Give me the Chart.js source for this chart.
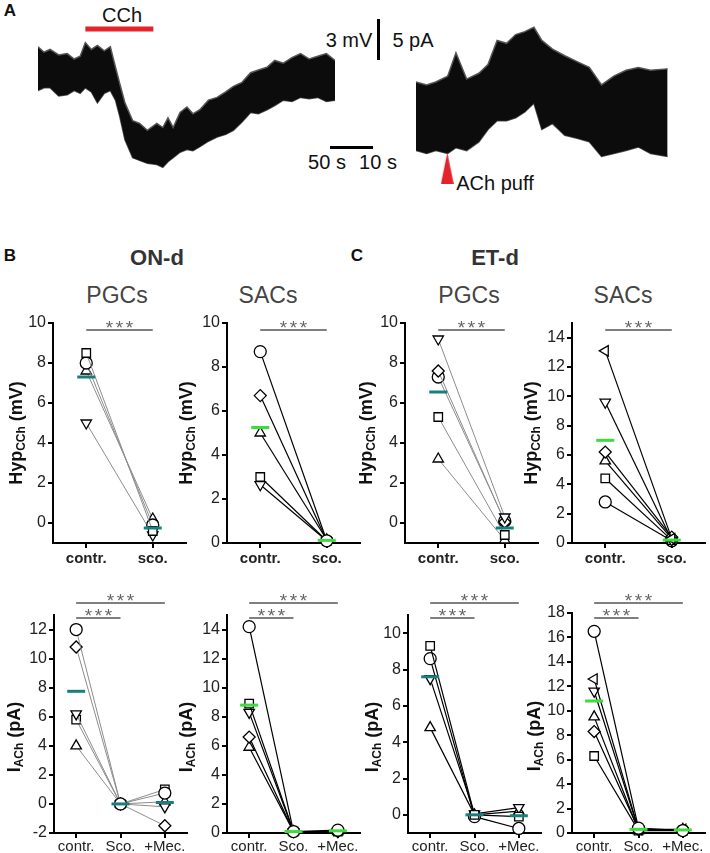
<!DOCTYPE html>
<html>
<head>
<meta charset="utf-8">
<script src="https://cdn.jsdelivr.net/npm/chart.js@4.4.1/dist/chart.umd.min.js"></script>
<style>
  body { margin: 0; background: #fff; font-family: "Liberation Sans", Arial, sans-serif; }
  #fig { position: relative; width: 710px; height: 853px; overflow: hidden; }
  canvas { position: absolute; }
  .t { position: absolute; white-space: nowrap; color: #111; transform: translate(-50%, -50%); }
  .bar { position: absolute; background: #000; }
</style>
</head>
<body>
<div id="fig">
  <div class="t" style="left:10px;top:11px;font-weight:bold;font-size:17px">A</div>
  <div class="t" style="left:122px;top:15px;font-size:20px">CCh</div>
  <div class="t" style="left:349px;top:40px;font-size:20px">3 mV</div>
  <div class="bar" style="left:377px;top:19px;width:3px;height:41px"></div>
  <div class="t" style="left:413px;top:40px;font-size:20px">5 pA</div>
  <div class="bar" style="left:330px;top:146px;width:43px;height:3px"></div>
  <div class="t" style="left:327px;top:162px;font-size:20px">50 s</div>
  <div class="t" style="left:378px;top:162px;font-size:20px">10 s</div>
  <div class="t" style="left:495px;top:183px;font-size:20px">ACh puff</div>

  <div class="t" style="left:10px;top:256px;font-weight:bold;font-size:17px">B</div>
  <div class="t" style="left:357px;top:256px;font-weight:bold;font-size:17px">C</div>
  <div class="t" style="left:157px;top:258px;font-weight:bold;font-size:22px;color:#333">ON-d</div>
  <div class="t" style="left:495px;top:258px;font-weight:bold;font-size:22px;color:#333">ET-d</div>
  <div class="t" style="left:117px;top:295px;font-size:23px;color:#444">PGCs</div>
  <div class="t" style="left:268px;top:295px;font-size:23px;color:#444">SACs</div>
  <div class="t" style="left:469px;top:295px;font-size:23px;color:#444">PGCs</div>
  <div class="t" style="left:623px;top:295px;font-size:23px;color:#444">SACs</div>
</div>
<script>
// ---- A: example traces (envelope of the noisy recording) ----
// CCh: time (s) vs membrane potential (mV)
const cchTime   = [0, 7, 14, 24, 34, 42, 49, 55, 62, 69, 77, 84, 90, 95, 101, 110, 118, 127, 138, 145, 151, 157, 165, 173, 180, 188, 198, 208, 218, 227, 237, 247, 256, 266, 275, 285, 295, 305, 315, 325, 335, 345];
const cchTop    = [1.7, 1.3, 1.5, 1.1, 1.2, 0.8, 1.0, 2.0, 1.5, 1.8, 1.4, 1.7, 0.2, -1.0, -2.4, -3.7, -3.9, -4.4, -3.9, -4.2, -3.5, -4.2, -3.1, -2.7, -3.2, -2.9, -2.2, -2.0, -1.6, -1.2, -0.9, -0.2, 0.0, 0.2, 0.7, 0.5, 0.9, 1.2, 0.8, 1.0, 1.2, 0.7];
const cchBottom = [-1.5, -1.3, -1.3, -1.9, -1.8, -1.5, -1.7, -1.3, -1.6, -2.4, -1.7, -1.5, -2.2, -3.4, -5.1, -6.4, -6.6, -6.8, -6.9, -7.1, -6.7, -6.4, -6.0, -5.8, -5.9, -5.6, -5.2, -4.9, -4.7, -4.4, -3.8, -3.1, -3.2, -2.9, -2.6, -2.2, -2.3, -2.0, -2.1, -2.0, -2.3, -2.2];
const cchApplied = [55, 134];
// ACh puff: time (s) vs current (pA)
const achTime   = [0, 2.7, 5.0, 8.0, 10.1, 12.8, 15.9, 18.2, 20.5, 22.9, 25.2, 27.5, 29.8, 31.8, 34.5, 37.6, 40.7, 43.8, 46.9, 50.0, 53.1, 56.2, 59.3, 63.6];
const achTop    = [4.9, 4.5, 4.9, 5.7, 8.9, 5.3, 6.1, 7.3, 10.6, 10.2, 11.4, 11.8, 12.4, 10.6, 9.4, 8.5, 7.7, 6.9, 4.5, 5.7, 6.5, 6.9, 6.5, 6.7];
const achBottom = [-4.5, -4.9, -4.5, -4.9, -4.1, -4.5, -3.3, -1.6, -0.4, -0.4, 0, 0.8, 2.0, -1.6, -0.8, -2.4, -2.8, -3.3, -5.3, -4.9, -4.5, -4.0, -4.9, -5.3];
const achPuffTime = 7.9;

// ---- B/C: paired data, one row per cell ----
const hypCats  = ['contr.', 'sco.'];
const iachCats = ['contr.', 'Sco.', '+Mec.'];

const onPgcHyp       = [[8.5, -0.4], [8.0, -0.1], [7.6, 0.2], [5.0, -0.6]];
const onPgcHypShapes = ['square', 'circle', 'up', 'down'];
const onPgcHypMean   = [7.3, -0.25];
const onPgcHypTicks  = [0, 2, 4, 6, 8, 10];

const onSacHyp       = [[8.7, 0.1], [6.7, 0.1], [5.0, 0.15], [3.0, 0.1], [2.65, 0.1]];
const onSacHypShapes = ['circle', 'diamond', 'up', 'square', 'down'];
const onSacHypMean   = [5.25, 0.12];
const onSacHypTicks  = [0, 2, 4, 6, 8, 10];

const etPgcHyp       = [[9.2, 0.3], [7.6, 0.05], [7.3, 0.1], [5.3, -0.6], [3.2, -0.85]];
const etPgcHypShapes = ['down', 'diamond', 'circle', 'square', 'up'];
const etPgcHypMean   = [6.55, -0.25];
const etPgcHypTicks  = [0, 2, 4, 6, 8, 10];

const etSacHyp       = [[13.1, 0.3], [9.6, 0.2], [6.2, 0.4], [5.6, 0.3], [4.4, 0.2], [2.8, 0.15]];
const etSacHypShapes = ['left', 'down', 'diamond', 'up', 'square', 'circle'];
const etSacHypMean   = [7.0, 0.2];
const etSacHypTicks  = [0, 2, 4, 6, 8, 10, 12, 14];

const onPgcIach       = [[12.0, 0, 0.75], [10.8, 0, -1.5], [6.2, 0, -0.2], [5.8, 0, 1.0], [4.0, 0, 0.15]];
const onPgcIachShapes = ['circle', 'diamond', 'down', 'square', 'up'];
const onPgcIachMean   = [7.75, 0, 0.1];
const onPgcIachTicks  = [-2, 0, 2, 4, 6, 8, 10, 12];

const onSacIach       = [[14.2, 0.1, 0.2], [8.9, 0.1, 0.1], [8.3, 0.1, 0.1], [6.6, 0.1, 0.1], [5.9, 0.1, 0.1]];
const onSacIachShapes = ['circle', 'square', 'down', 'diamond', 'up'];
const onSacIachMean   = [8.8, 0.1, 0.15];
const onSacIachTicks  = [0, 2, 4, 6, 8, 10, 12, 14];

const etPgcIach       = [[9.3, 0, -0.1], [8.6, -0.1, -0.75], [7.5, 0.05, 0.4], [4.8, 0, 0.2]];
const etPgcIachShapes = ['square', 'circle', 'down', 'up'];
const etPgcIachMean   = [7.6, 0, -0.05];
const etPgcIachTicks  = [0, 2, 4, 6, 8, 10];

const etSacIach       = [[16.5, 0.4, 0.2], [12.6, 0.3, 0.3], [11.6, 0.3, 0.2], [9.5, 0.2, 0.3], [8.3, 0.3, 0.2], [6.3, 0.2, 0.2]];
const etSacIachShapes = ['circle', 'left', 'down', 'up', 'diamond', 'square'];
const etSacIachMean   = [10.8, 0.3, 0.25];
const etSacIachTicks  = [0, 2, 4, 6, 8, 10, 12, 14, 16, 18];

// ------------------------------------------------------------
const FONT = '"Liberation Sans", Arial, sans-serif';
Chart.defaults.font.family = FONT;
Chart.defaults.animation = false;

const fig = document.getElementById('fig');
function makeCanvas(left, top, w, h) {
  const c = document.createElement('canvas');
  c.width = w; c.height = h;
  c.style.left = left + 'px'; c.style.top = top + 'px';
  c.style.width = w + 'px'; c.style.height = h + 'px';
  fig.appendChild(c);
  return c.getContext('2d');
}
const pts = (xs, ys) => xs.map((x, i) => ({ x: x, y: ys[i] }));

const traceOpts = (xmax, ymin, ymax) => ({
  responsive: false,
  layout: { padding: 0 },
  plugins: { legend: { display: false }, tooltip: { enabled: false } },
  scales: {
    x: { type: 'linear', min: 0, max: xmax, display: false },
    y: { min: ymin, max: ymax, display: false }
  }
});

// left trace: CCh
new Chart(makeCanvas(38, 0, 297, 200), {
  type: 'line',
  data: {
    datasets: [
      { data: cchApplied.map(t => ({ x: t, y: 3.0 })), borderColor: '#e3242b', borderWidth: 5, pointRadius: 0, clip: false },
      { data: pts(cchTime, cchTop), borderColor: '#555', borderWidth: 1.5, pointRadius: 0, fill: '+1', backgroundColor: '#0c0c0c', clip: false },
      { data: pts(cchTime, cchBottom), borderColor: '#555', borderWidth: 1.5, pointRadius: 0, clip: false }
    ]
  },
  options: traceOpts(345, -9.49, 5.11)
});

// right trace: ACh puff
const puffImg = document.createElement('canvas');
puffImg.width = 13; puffImg.height = 32;
(function () {
  const g = puffImg.getContext('2d');
  g.fillStyle = '#e3242b';
  g.beginPath(); g.moveTo(6.5, 0); g.lineTo(13, 32); g.lineTo(0, 32); g.closePath(); g.fill();
})();

new Chart(makeCanvas(405, 0, 274, 200), {
  type: 'line',
  data: {
    datasets: [
      { data: [{ x: achPuffTime, y: -6.95 }], showLine: false, pointStyle: puffImg, pointRadius: 10, clip: false },
      { data: pts(achTime, achTop), borderColor: '#555', borderWidth: 1.5, pointRadius: 0, fill: '+1', backgroundColor: '#0c0c0c', clip: false },
      { data: pts(achTime, achBottom), borderColor: '#555', borderWidth: 1.5, pointRadius: 0, clip: false }
    ]
  },
  options: traceOpts(63.7, -9.76, 14.63)
});

// ---- paired plots ----
const TEAL = '#17807f', GREEN = '#3ddc3d';
const shapeMap = {
  circle: ['circle', 0], square: ['rect', 0], diamond: ['rectRot', 0],
  up: ['triangle', 0], down: ['triangle', 180], left: ['triangle', 270]
};

const extras = {
  id: 'extras',
  afterDraw(chart, args, o) {
    const ctx = chart.ctx, a = chart.chartArea, xs = chart.scales.x;
    // y title with subscript
    ctx.save();
    ctx.translate(a.left - o.tOff, (a.top + a.bottom) / 2 + (o.tDy || 0));
    ctx.rotate(-Math.PI / 2);
    const big = 'bold 18px ' + FONT, small = 'bold 12px ' + FONT;
    ctx.font = big;
    const w1 = ctx.measureText(o.title[0]).width, w3 = ctx.measureText(o.title[2]).width;
    ctx.font = small;
    const w2 = ctx.measureText(o.title[1]).width;
    let x = -(w1 + w2 + w3) / 2;
    ctx.fillStyle = '#111'; ctx.textBaseline = 'middle'; ctx.textAlign = 'left';
    ctx.font = big; ctx.fillText(o.title[0], x, 0); x += w1;
    ctx.font = small; ctx.fillText(o.title[1], x, 5); x += w2;
    ctx.font = big; ctx.fillText(o.title[2], x, 0);
    ctx.restore();
    // significance bars with three asterisks
    o.sig.forEach(b => {
      const y = a.top + b.dy, x0 = xs.getPixelForValue(b.from), x1 = xs.getPixelForValue(b.to);
      const xm = (x0 + x1) / 2;
      ctx.save();
      ctx.strokeStyle = '#555'; ctx.lineWidth = 1.5;
      ctx.beginPath(); ctx.moveTo(x0, y); ctx.lineTo(x1, y); ctx.stroke();
      ctx.fillStyle = '#666'; ctx.font = '19px ' + FONT;
      ctx.textAlign = 'center'; ctx.textBaseline = 'alphabetic';
      [-10, 0, 10].forEach(dx => ctx.fillText('*', xm + dx, y + 4));
      ctx.restore();
    });
  }
};

function pairedPlot(p) {
  const yW = 52, xH = p.bold ? 25 : 20, padTop = 30, padRight = 10;
  const ctx = makeCanvas(p.axisX - yW, p.top - padTop, yW + 135 + padRight, padTop + (p.bottom - p.top) + xH);
  const sets = [{
    data: p.mean.map((v, i) => ({ x: i, y: v })), showLine: false,
    pointStyle: 'line', pointRadius: 9, borderColor: p.meanColor, borderWidth: 3, clip: false
  }];
  p.data.forEach((row, k) => {
    const s = shapeMap[p.shapes[k]];
    sets.push({
      data: row.map((v, i) => ({ x: i, y: v })),
      borderColor: p.line, borderWidth: p.lw,
      pointStyle: s[0], pointRotation: s[1], pointRadius: 6,
      pointBackgroundColor: '#fff', pointBorderColor: '#000', pointBorderWidth: 1.3,
      clip: false
    });
  });
  new Chart(ctx, {
    type: 'line',
    data: { datasets: sets },
    options: {
      responsive: false,
      layout: { padding: { top: padTop, right: padRight, left: 0, bottom: 0 } },
      plugins: {
        legend: { display: false }, tooltip: { enabled: false },
        extras: { title: p.title, tOff: p.tOff, tDy: p.tDy, sig: p.sig }
      },
      scales: {
        x: {
          type: 'linear', min: -0.5, max: p.cats.length - 0.5,
          afterBuildTicks: s => { s.ticks = p.cats.map((c, i) => ({ value: i })); },
          afterFit: s => { s.height = xH; },
          ticks: {
            callback: v => p.cats[v], color: '#222', padding: p.bold ? 2 : 0,
            font: { size: 15, weight: p.bold ? 'bold' : 'normal' }, maxRotation: 0, autoSkip: false
          },
          grid: { drawOnChartArea: false, tickLength: 5, color: '#000', lineWidth: 2 },
          border: { color: '#000', width: 2 }
        },
        y: {
          min: p.min, max: p.max,
          afterBuildTicks: s => { s.ticks = p.ticks.map(v => ({ value: v })); },
          afterFit: s => { s.width = yW; },
          ticks: { color: '#222', padding: 2, font: { size: 16 } },
          grid: { drawOnChartArea: false, tickLength: 5, color: '#000', lineWidth: 2 },
          border: { color: '#000', width: 2 }
        }
      }
    },
    plugins: [extras]
  });
}

const hypTitle = ['Hyp', 'CCh', ' (mV)'];
const iTitle = ['I', 'ACh', ' (pA)'];
const topSig = [{ from: 0, to: 1, dy: 7 }];

pairedPlot({ data: onPgcHyp, shapes: onPgcHypShapes, mean: onPgcHypMean, ticks: onPgcHypTicks, cats: hypCats,
  min: -1, max: 10, axisX: 53, top: 323, bottom: 543, line: '#8c8c8c', lw: 1, meanColor: TEAL,
  title: hypTitle, tOff: 36, sig: topSig, bold: true });
pairedPlot({ data: onSacHyp, shapes: onSacHypShapes, mean: onSacHypMean, ticks: onSacHypTicks, cats: hypCats,
  min: 0, max: 10, axisX: 227, top: 323, bottom: 543, line: '#000', lw: 1.2, meanColor: GREEN,
  title: hypTitle, tOff: 40, sig: topSig, bold: true });
pairedPlot({ data: etPgcHyp, shapes: etPgcHypShapes, mean: etPgcHypMean, ticks: etPgcHypTicks, cats: hypCats,
  min: -1, max: 10, axisX: 405, top: 323, bottom: 543, line: '#8c8c8c', lw: 1, meanColor: TEAL,
  title: hypTitle, tOff: 38, sig: topSig, bold: true });
pairedPlot({ data: etSacHyp, shapes: etSacHypShapes, mean: etSacHypMean, ticks: etSacHypTicks, cats: hypCats,
  min: 0, max: 15, axisX: 572, top: 323, bottom: 543, line: '#000', lw: 1.2, meanColor: GREEN,
  title: hypTitle, tOff: 40, sig: topSig, bold: true });

const botSig = [{ from: 0, to: 1, dy: 3 }, { from: 0, to: 2, dy: -12 }];
pairedPlot({ data: onPgcIach, shapes: onPgcIachShapes, mean: onPgcIachMean, ticks: onPgcIachTicks, cats: iachCats,
  min: -2, max: 13, axisX: 54, top: 615, bottom: 833, line: '#8c8c8c', lw: 1, meanColor: TEAL,
  title: iTitle, tOff: 39, tDy: 13, sig: botSig, bold: false });
pairedPlot({ data: onSacIach, shapes: onSacIachShapes, mean: onSacIachMean, ticks: onSacIachTicks, cats: iachCats,
  min: 0, max: 15, axisX: 227, top: 615, bottom: 833, line: '#000', lw: 1.2, meanColor: GREEN,
  title: iTitle, tOff: 40, tDy: 13, sig: botSig, bold: false });
pairedPlot({ data: etPgcIach, shapes: etPgcIachShapes, mean: etPgcIachMean, ticks: etPgcIachTicks, cats: iachCats,
  min: -1, max: 11, axisX: 408, top: 615, bottom: 833, line: '#000', lw: 1.2, meanColor: TEAL,
  title: iTitle, tOff: 35, tDy: 13, sig: botSig, bold: false });
pairedPlot({ data: etSacIach, shapes: etSacIachShapes, mean: etSacIachMean, ticks: etSacIachTicks, cats: iachCats,
  min: 0, max: 18, axisX: 572, top: 613, bottom: 833, line: '#000', lw: 1.2, meanColor: GREEN,
  title: iTitle, tOff: 37, tDy: 13, sig: [{ from: 0, to: 1, dy: 5 }, { from: 0, to: 2, dy: -10 }], bold: false });
</script>
</body>
</html>
